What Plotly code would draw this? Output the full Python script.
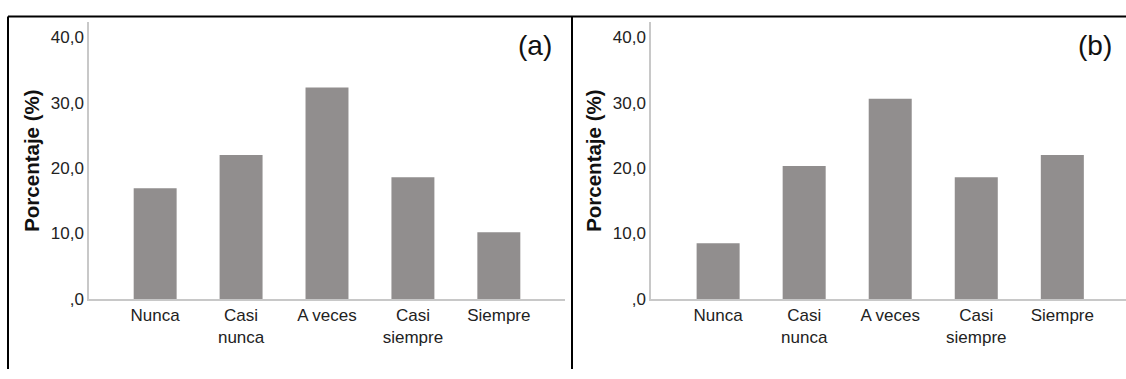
import plotly.graph_objects as go

categories = ["Nunca", "Casi<br>nunca", "A veces", "Casi<br>siempre", "Siempre"]
values_a = [16.9, 22.0, 32.3, 18.6, 10.2]
values_b = [8.5, 20.3, 30.6, 18.6, 22.0]
y_tickvals = [0, 10, 20, 30, 40]
y_ticktext = [",0", "10,0", "20,0", "30,0", "40,0"]
panel_labels = ["(a)", "(b)"]

W, H = 1126, 379
bar_color = "#918e8e"
font_family = "Liberation Sans, Arial, sans-serif"

fig = go.Figure()
fig.add_trace(go.Bar(x=list(range(5)), y=values_a, marker=dict(color=bar_color, line=dict(width=0)),
                     width=0.5, xaxis="x", yaxis="y", showlegend=False))
fig.add_trace(go.Bar(x=list(range(5)), y=values_b, marker=dict(color=bar_color, line=dict(width=0)),
                     width=0.5, xaxis="x2", yaxis="y2", showlegend=False))

y0_px, ytop_px = 307, 23
ydom = [(H - y0_px) / H, (H - ytop_px) / H]
yrange = [0, (y0_px - ytop_px) / 6.72]

xaxis_common = dict(
    tickvals=list(range(5)), ticktext=categories, showgrid=False, zeroline=False,
    showline=True, linecolor="#c8c8c8", linewidth=1.5, ticks="",
    tickfont=dict(family=font_family, size=17, color="#222"), fixedrange=True,
)
yaxis_common = dict(
    range=yrange, domain=ydom, tickvals=y_tickvals, ticktext=y_ticktext,
    showgrid=False, zeroline=False, showline=True, linecolor="#c8c8c8", linewidth=1.5,
    ticks="", ticklen=0, tickfont=dict(family=font_family, size=17, color="#222"),
    title=dict(text="<b>Porcentaje (%)</b>", font=dict(family=font_family, size=20.5, color="#111"), standoff=6),
)

fig.update_layout(
    width=W, height=H, margin=dict(l=0, r=0, t=0, b=0),
    paper_bgcolor="white", plot_bgcolor="white",
    xaxis=dict(domain=[89 / W, 565 / W], range=[-0.77, 4.77], anchor="y", **xaxis_common),
    yaxis=dict(anchor="x", **yaxis_common),
    xaxis2=dict(domain=[651 / W, 1.0], range=[-0.78, 4.74], anchor="y2", **xaxis_common),
    yaxis2=dict(anchor="x2", **yaxis_common),
    bargap=0.5,
)

# panel labels
for xpx, txt in zip([554, 1114], panel_labels):
    fig.add_annotation(x=xpx / W, y=(H - 47) / H, xref="paper", yref="paper", text=txt,
                       showarrow=False, xanchor="right", yanchor="middle",
                       font=dict(family=font_family, size=28, color="#111"))

# frame lines
border = dict(color="black", width=2)
fig.add_shape(type="line", xref="paper", yref="paper", x0=8 / W, x1=1.0, y0=(H - 17) / H, y1=(H - 17) / H, line=border)
fig.add_shape(type="line", xref="paper", yref="paper", x0=8 / W, x1=8 / W, y0=0, y1=(H - 17) / H, line=border)
fig.add_shape(type="line", xref="paper", yref="paper", x0=572 / W, x1=572 / W, y0=0, y1=(H - 17) / H, line=border)

fig.write_html("out.html", config={"displayModeBar": False},
               post_script="document.body.style.margin='0';document.body.style.overflow='hidden';")
